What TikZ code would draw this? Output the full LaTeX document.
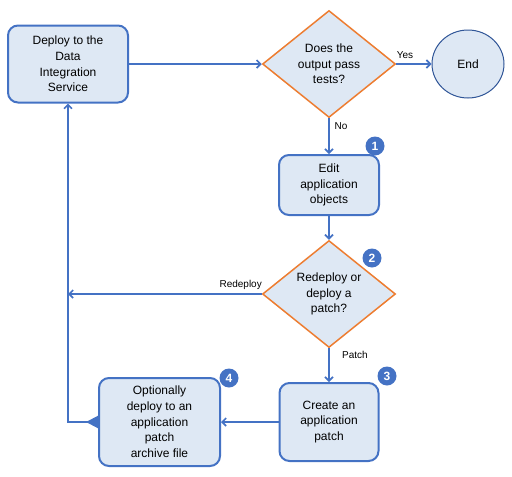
\documentclass[tikz,border=0pt]{standalone}
\usepackage{fontspec}
\setmainfont{Liberation Sans}
\usetikzlibrary{shapes.geometric,arrows.meta}
\definecolor{bstroke}{HTML}{4472C4}
\definecolor{bfill}{HTML}{DEE8F4}
\definecolor{ostroke}{HTML}{ED7D31}
\definecolor{estroke}{HTML}{2F5597}
\tikzset{
  box/.style={draw=bstroke, fill=bfill, line width=2pt, rounded corners=10pt, align=center, font=\fontsize{12}{15.7}\selectfont, inner sep=0pt},
  dec/.style={draw=ostroke, fill=bfill, line width=1.5pt, shape=diamond, aspect=1.24, align=center, font=\fontsize{12}{15.7}\selectfont, inner sep=0pt, minimum width=133pt, minimum height=107pt},
  conn/.style={draw=bstroke, line width=2pt, -{Straight Barb[length=4pt,width=8pt,line width=1.6pt]}},
  badge/.style={circle, fill=bstroke, text=white, font=\bfseries\fontsize{12}{12}\selectfont, minimum size=19pt, inner sep=0pt},
  lbl/.style={font=\fontsize{10}{12}\selectfont, inner sep=0pt}
}
\begin{document}
\begin{tikzpicture}[x=1pt,y=-1pt]
\useasboundingbox (0,0) rectangle (512,477);
\node[box, minimum width=120pt, minimum height=77pt] (b1) at (68,64) {Deploy to the\\Data\\Integration\\Service};
\node[dec] (d1) at (329,64) {Does the\\output pass\\tests?};
\node[draw=estroke, fill=bfill, line width=1pt, ellipse, minimum width=72pt, minimum height=68pt, font=\fontsize{12}{15.7}\selectfont] (end) at (468,64) {End};
\node[box, minimum width=100pt, minimum height=60pt] (b2) at (329,185) {Edit\\application\\objects};
\node[dec] (d2) at (329,294) {Redeploy or\\deploy a\\patch?};
\node[box, minimum width=99pt, minimum height=78pt] (b3) at (329,422) {Create an\\application\\patch};
\node[box, minimum width=121pt, minimum height=88pt] (b4) at (159.5,422) {Optionally\\deploy to an\\application\\patch\\archive file};
\node[badge] (n1) at (375,146) {1};
\node[badge] (n2) at (372,258) {2};
\node[badge] (n3) at (387,376) {3};
\node[badge] (n4) at (229,378) {4};
\coordinate (r) at (68,294);
\coordinate (c) at (68,422);
\draw[conn] (b1.east) -- (d1.west);
\draw[conn] (d1.east) -- (end.west);
\node[lbl] (yes) at (405,55) {Yes};
\draw[conn] (d1.south) -- (b2.north);
\node[lbl] (no) at (341,126) {No};
\draw[conn] (b2.south) -- (d2.north);
\draw[conn] (d2.west) -- (r);
\node[lbl, anchor=east] (rd) at (262,285) {Redeploy};
\draw[conn] (d2.south) -- (b3.north);
\node[lbl] (pt) at (355,355) {Patch};
\draw[conn] (b3.west) -- (b4.east);
\draw[draw=bstroke, line width=2pt, {Triangle[reversed,length=12pt,width=12pt]}-{Straight Barb[length=4pt,width=8pt,line width=1.6pt]}] (b4.west) -- (c) -- (b1.south);
\end{tikzpicture}
\end{document}
